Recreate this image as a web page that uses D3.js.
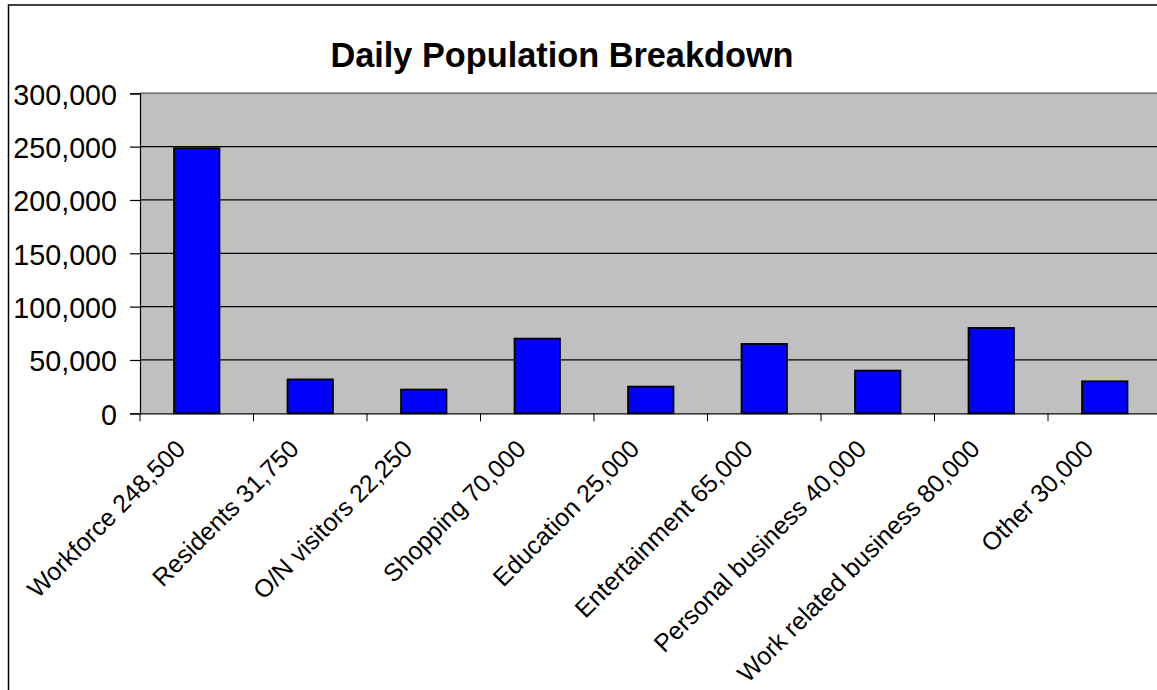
<!DOCTYPE html>
<html>
<head>
<meta charset="utf-8">
<script src="https://cdn.jsdelivr.net/npm/d3@7"></script>
<style>
  html, body { margin: 0; padding: 0; background: #fff; }
  svg { display: block; font-family: "Liberation Sans", Arial, sans-serif; }
</style>
</head>
<body>
<svg id="chart" width="1157" height="690"></svg>
<script>
const title = "Daily Population Breakdown";
const categories = ["Workforce", "Residents", "O/N visitors", "Shopping", "Education",
  "Entertainment", "Personal business", "Work related business", "Other"];
const values = [248500, 31750, 22250, 70000, 25000, 65000, 40000, 80000, 30000];
const yTicks = [0, 50000, 100000, 150000, 200000, 250000, 300000];

const fmt = d3.format(",");
const svg = d3.select("#chart");

const plotLeft = 140, plotTop = 93.3, plotBottom = 413.3, band = 113.5;
const x = d3.scaleBand().domain(categories).range([plotLeft, plotLeft + band * categories.length]).padding(0);
const y = d3.scaleLinear().domain([0, 300000]).range([plotBottom, plotTop]);

// outer chart border
svg.append("rect").attr("x", 8.5).attr("y", 5).attr("width", 1300).attr("height", 800)
  .attr("fill", "none").attr("stroke", "#000").attr("stroke-width", 1.5);

// title
svg.append("text").attr("x", 562).attr("y", 67).attr("text-anchor", "middle")
  .attr("font-size", 34.3).attr("font-weight", "bold").attr("fill", "#000").text(title);

// plot background
svg.append("rect").attr("x", plotLeft).attr("y", y(300000))
  .attr("width", x.range()[1] - plotLeft).attr("height", plotBottom - y(300000))
  .attr("fill", "#C0C0C0");

// gridlines
svg.append("g").selectAll("line").data(yTicks.filter(d => d > 0 && d < 300000)).join("line")
  .attr("x1", plotLeft).attr("x2", x.range()[1])
  .attr("y1", d => y(d)).attr("y2", d => y(d))
  .attr("stroke", "#000").attr("stroke-width", 1.2);
// top plot border
svg.append("line").attr("x1", plotLeft).attr("x2", x.range()[1])
  .attr("y1", y(300000)).attr("y2", y(300000))
  .attr("stroke", "#808080").attr("stroke-width", 2);

// bars
svg.append("g").selectAll("rect").data(values).join("rect")
  .attr("x", (d, i) => x(categories[i]) + x.bandwidth() * 0.3)
  .attr("width", x.bandwidth() * 0.4)
  .attr("y", d => y(d))
  .attr("height", d => plotBottom - y(d))
  .attr("fill", "#0000FF").attr("stroke", "#000").attr("stroke-width", 1.8);

// y axis
const yAxis = d3.axisLeft(y).tickValues(yTicks).tickFormat(fmt).tickSize(10).tickPadding(13);
const gy = svg.append("g").attr("transform", `translate(${plotLeft},0)`).call(yAxis);
gy.select(".domain").attr("stroke", "#000").attr("stroke-width", 1.2);
gy.selectAll(".tick line").attr("stroke", "#000").attr("stroke-width", 1.2);
gy.selectAll(".tick text").attr("font-size", 28.7).attr("fill", "#000")
  .attr("font-family", "Liberation Sans, Arial, sans-serif").attr("dy", "0.38em");

// x axis
const xAxis = d3.axisBottom(x).tickSize(0).tickFormat("");
const gx = svg.append("g").attr("transform", `translate(0,${plotBottom})`).call(xAxis);
gx.select(".domain").attr("stroke", "#000").attr("stroke-width", 1.2);
gx.selectAll(".tick").remove();
// category boundary ticks
const bounds = d3.range(categories.length + 1).map(i => plotLeft + i * x.step());
svg.append("g").selectAll("line").data(bounds).join("line")
  .attr("x1", d => d).attr("x2", d => d)
  .attr("y1", plotBottom).attr("y2", plotBottom + 8)
  .attr("stroke", "#000").attr("stroke-width", 1);

// rotated category labels
svg.append("g").selectAll("text").data(categories).join("text")
  .attr("transform", c => `translate(${x(c) + x.bandwidth() / 2 - 10},${plotBottom + 37}) rotate(-45)`)
  .attr("text-anchor", "end")
  .attr("font-size", 25).attr("fill", "#000")
  .text((c, i) => c + " " + fmt(values[i]));
</script>
</body>
</html>
